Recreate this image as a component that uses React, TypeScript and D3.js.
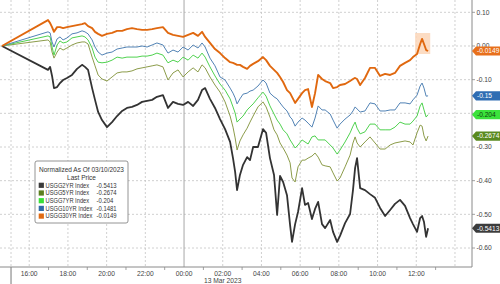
import React from 'react';
import * as d3 from 'd3';

// hours relative to 00:00, 13 Mar 2023 (first point = Friday close 03/10/2023)
const hours = [-9.41,-7.03,-6.92,-6.82,-6.72,-6.56,-6.41,-6.25,-6.05,-5.79,-5.53,-5.27,-5.12,-4.96,-4.75,-4.60,-4.44,-4.24,-3.98,-3.72,-3.46,-3.20,-2.95,-2.69,-2.43,-2.17,-1.91,-1.65,-1.40,-1.09,-0.83,-0.57,-0.31,-0.05,0.21,0.47,0.72,0.93,1.09,1.34,1.60,1.86,2.12,2.38,2.53,2.64,2.74,2.89,3.05,3.26,3.41,3.57,3.82,4.08,4.24,4.44,4.65,4.81,4.96,5.12,5.32,5.48,5.58,5.74,5.89,6.10,6.25,6.41,6.61,6.77,6.93,7.13,7.29,7.55,7.70,7.91,8.06,8.32,8.58,8.73,8.84,8.94,9.10,9.35,9.61,9.87,10.13,10.39,10.65,10.90,11.16,11.42,11.68,11.83,12.04,12.20,12.30,12.40,12.51,12.61];

const usgg30 = [0,0.077,0.068,0.056,0.042,0.056,0.056,0.053,0.056,0.059,
0.062,0.065,0.068,0.059,0.053,0.042,0.036,0.030,0.036,0.039,
0.045,0.045,0.050,0.053,0.050,0.048,0.048,0.050,0.053,0.056,
0.039,0.033,0.030,0.027,0.033,0.039,0.030,0.042,0.027,0.009,
-0.009,-0.021,-0.036,-0.048,-0.050,-0.053,-0.056,-0.056,-0.062,-0.068,
-0.059,-0.053,-0.045,-0.033,-0.042,-0.059,-0.071,-0.080,-0.092,-0.107,
-0.131,-0.140,-0.151,-0.169,-0.157,-0.140,-0.131,-0.128,-0.181,-0.140,
-0.086,-0.098,-0.104,-0.110,-0.125,-0.122,-0.116,-0.113,-0.104,-0.098,
-0.095,-0.098,-0.116,-0.095,-0.065,-0.065,-0.089,-0.083,-0.086,-0.080,
-0.059,-0.050,-0.042,-0.033,-0.024,0.006,0.021,0.006,-0.012,-0.0149];

const usgg2 = [0,-0.071,-0.062,-0.089,-0.125,-0.122,-0.110,-0.101,-0.095,-0.086,
-0.068,-0.056,-0.062,-0.071,-0.125,-0.160,-0.196,-0.220,-0.241,-0.226,
-0.208,-0.193,-0.184,-0.181,-0.175,-0.166,-0.163,-0.160,-0.151,-0.146,
-0.184,-0.166,-0.172,-0.175,-0.166,-0.178,-0.160,-0.131,-0.125,-0.157,
-0.184,-0.217,-0.247,-0.285,-0.333,-0.374,-0.428,-0.383,-0.353,-0.330,
-0.339,-0.300,-0.300,-0.247,-0.258,-0.333,-0.383,-0.502,-0.386,-0.404,
-0.443,-0.532,-0.582,-0.529,-0.493,-0.422,-0.472,-0.466,-0.514,-0.484,
-0.463,-0.529,-0.541,-0.517,-0.552,-0.582,-0.564,-0.526,-0.499,-0.428,
-0.362,-0.333,-0.422,-0.428,-0.440,-0.451,-0.481,-0.505,-0.487,-0.469,
-0.457,-0.475,-0.511,-0.529,-0.552,-0.511,-0.505,-0.523,-0.567,-0.5413];

const usgg10 = [0,0.042,0.039,0.012,-0.003,0.021,0.027,0.018,0.024,0.036,
0.039,0.045,0.042,0.036,0.018,-0.003,-0.018,-0.027,-0.021,-0.018,
-0.009,-0.006,-0.003,-0.003,-0.003,0,-0.003,0.003,0.009,0.003,
-0.021,-0.012,-0.018,-0.003,-0.012,0.003,-0.006,0.009,-0.003,-0.036,
-0.059,-0.092,-0.101,-0.125,-0.140,-0.154,-0.172,-0.157,-0.143,-0.140,
-0.134,-0.131,-0.119,-0.101,-0.110,-0.140,-0.151,-0.157,-0.169,-0.181,
-0.193,-0.211,-0.217,-0.238,-0.226,-0.214,-0.220,-0.229,-0.241,-0.214,
-0.178,-0.190,-0.190,-0.202,-0.220,-0.244,-0.232,-0.217,-0.205,-0.193,
-0.181,-0.187,-0.196,-0.193,-0.169,-0.172,-0.193,-0.193,-0.190,-0.190,
-0.169,-0.169,-0.172,-0.160,-0.146,-0.119,-0.110,-0.125,-0.149,-0.1481];

const usgg7 = [0,0.030,0.027,-0.003,-0.027,0.003,0.015,0.009,0.012,0.024,
0.027,0.030,0.027,0.018,-0.006,-0.033,-0.048,-0.050,-0.048,-0.042,
-0.033,-0.036,-0.033,-0.033,-0.033,-0.030,-0.030,-0.027,-0.021,-0.027,
-0.050,-0.042,-0.048,-0.033,-0.042,-0.027,-0.036,-0.021,-0.033,-0.062,
-0.089,-0.113,-0.131,-0.157,-0.181,-0.199,-0.226,-0.217,-0.208,-0.190,
-0.181,-0.172,-0.154,-0.137,-0.149,-0.178,-0.202,-0.220,-0.232,-0.249,
-0.261,-0.279,-0.288,-0.303,-0.294,-0.279,-0.285,-0.291,-0.270,-0.267,
-0.279,-0.279,-0.279,-0.294,-0.303,-0.321,-0.309,-0.285,-0.258,-0.238,
-0.226,-0.244,-0.261,-0.255,-0.232,-0.232,-0.249,-0.249,-0.249,-0.241,
-0.226,-0.232,-0.232,-0.223,-0.208,-0.178,-0.169,-0.190,-0.211,-0.204];

const usgg5 = [0,0.018,0.012,-0.018,-0.036,-0.018,-0.006,-0.012,-0.006,0.003,
0.009,0.012,0.012,0.006,-0.033,-0.059,-0.086,-0.098,-0.104,-0.092,
-0.080,-0.077,-0.077,-0.074,-0.068,-0.065,-0.062,-0.059,-0.056,-0.062,
-0.101,-0.080,-0.071,-0.092,-0.077,-0.065,-0.077,-0.056,-0.065,-0.092,
-0.116,-0.137,-0.166,-0.208,-0.241,-0.273,-0.309,-0.282,-0.264,-0.244,
-0.226,-0.208,-0.181,-0.166,-0.181,-0.211,-0.249,-0.264,-0.288,-0.303,
-0.324,-0.347,-0.392,-0.404,-0.359,-0.339,-0.339,-0.333,-0.327,-0.318,
-0.330,-0.353,-0.356,-0.359,-0.377,-0.401,-0.392,-0.359,-0.324,-0.288,
-0.270,-0.288,-0.300,-0.285,-0.270,-0.288,-0.306,-0.306,-0.294,-0.288,
-0.285,-0.282,-0.285,-0.294,-0.258,-0.235,-0.238,-0.267,-0.282,-0.2674];

const seriesNames = ['USGG2YR Index', 'USGG5YR Index', 'USGG7YR Index', 'USGG10YR Index', 'USGG30YR Index'];
const legendValues = ['-0.5413', '-0.2674', '-0.204', '-0.1481', '-0.0149'];
const boxLabels = ['-0.5413', '-0.2674', '-0.204', '-0.15', '-0.0149'];
const seriesData = [usgg2, usgg5, usgg7, usgg10, usgg30];

const xTickHours = [-8, -6, -4, -2, 0, 2, 4, 6, 8, 10, 12];
const xTickLabels = ['16:00', '18:00', '20:00', '22:00', '00:00', '02:00', '04:00', '06:00', '08:00', '10:00', '12:00'];
const xGridHours = [-8, -6, -4, -2, 2, 4, 6, 8, 10, 12, 14];
const xMinorHours = [-7, -5, -3, -1, 1, 3, 5, 7, 9, 11, 13];
const dateSeparatorHours = -8.94;
const dateLabel = '13 Mar 2023';
const yTicks = [0.1, 0, -0.1, -0.2, -0.3, -0.4, -0.5, -0.6];
const yTickLabels = ['0.10', '0.00', '-0.10', '-0.20', '-0.30', '-0.40', '-0.50', '-0.60'];
const highlightHours = [11.94, 12.72];
const highlightValues = [0.0386, -0.0238];

const lineColors = ['#333333', '#8c9c4a', '#4fd24f', '#5283b5', '#e0680f'];
const lineWidths = [1.8, 1, 1, 1, 1.9];
const legendColors = ['#3a3a3a', '#5b7f1e', '#38e038', '#2f6aa8', '#e06a12'];
const boxFill = ['#3c3c3c', '#5a8a1f', '#3be23b', '#2f6db3', '#e8701c'];
const boxText = ['#ffffff', '#ffffff', '#0e3d0e', '#ffffff', '#ffffff'];

const W = 500, H = 284;
const FONT = '"Liberation Sans", Arial, sans-serif';

export default function App() {
  const x = d3.scaleLinear().domain([-9.51, 14.88]).range([0, 472]);
  const y = d3.scaleLinear().domain([-0.6564, 0.1366]).range([267, 0]);
  const line = d3.line<[number, number]>().x(d => x(d[0])).y(d => y(d[1]));
  const drawOrder = [1, 2, 3, 0, 4];
  const xr = x.range();
  const yb = y.range()[0];
  const boxYs = seriesData.map(s => y(s[s.length - 1]));

  return (
    <svg width={W} height={H} style={{ position: 'absolute', left: 0, top: 0, background: '#fff' }} fontFamily={FONT}>
      <rect x={0} y={0} width={W} height={H} fill="#ffffff" />
      {yTicks.map((t, i) => (
        <line key={'hg' + i} x1={xr[0]} x2={xr[1]} y1={y(t)} y2={y(t)} stroke="#c4c4c4" strokeWidth={0.8} strokeDasharray="2,2" />
      ))}
      {xGridHours.map((h, i) => (
        <line key={'vg' + i} x1={x(h)} x2={x(h)} y1={0} y2={yb} stroke="#c4c4c4" strokeWidth={0.8} strokeDasharray="2,2" />
      ))}
      <line x1={x(0)} x2={x(0)} y1={0} y2={yb} stroke="#a8a8a8" strokeWidth={1} />
      <line x1={x(dateSeparatorHours)} x2={x(dateSeparatorHours)} y1={0} y2={yb} stroke="#c4c4c4" strokeWidth={0.8} strokeDasharray="2,2" />
      <line x1={x(dateSeparatorHours)} x2={x(dateSeparatorHours)} y1={yb} y2={H} stroke="#777" strokeWidth={1} />

      <rect x={x(highlightHours[0])} y={y(highlightValues[0])} width={x(highlightHours[1]) - x(highlightHours[0])} height={y(highlightValues[1]) - y(highlightValues[0])} fill="#fbd6b8" opacity={0.85} />

      {drawOrder.map(si => {
        const pts: [number, number][] = hours.map((h, k) => [h, seriesData[si][k]]);
        return <path key={'s' + si} d={line(pts) || ''} fill="none" stroke={lineColors[si]} strokeWidth={lineWidths[si]} strokeLinejoin="round" />;
      })}

      <line x1={0} x2={xr[1]} y1={yb} y2={yb} stroke="#8a8a8a" strokeWidth={1} />
      <line x1={xr[1]} x2={xr[1]} y1={0} y2={yb} stroke="#8a8a8a" strokeWidth={1} />
      {xMinorHours.map((h, i) => (
        <line key={'mt' + i} x1={x(h)} x2={x(h)} y1={yb} y2={yb + 3} stroke="#8a8a8a" strokeWidth={0.8} />
      ))}
      {xTickHours.map((h, i) => (
        <text key={'xl' + i} x={x(h)} y={276} fontSize={6.7} fill="#444" textAnchor="middle">{xTickLabels[i]}</text>
      ))}
      <text x={x(2)} y={283} fontSize={6.7} fill="#444" textAnchor="middle">{dateLabel}</text>

      {yTicks.map((t, i) => {
        const covered = boxYs.some(by => Math.abs(by - y(t)) < 4);
        return (
          <g key={'yl' + i}>
            <line x1={xr[1]} x2={xr[1] + 3} y1={y(t)} y2={y(t)} stroke="#8a8a8a" strokeWidth={0.8} />
            {!covered && <text x={xr[1] + 4.5} y={y(t)} dy="0.35em" fontSize={6.7} fill="#444">{yTickLabels[i]}</text>}
          </g>
        );
      })}

      {seriesData.map((s, si) => {
        const cy = boxYs[si];
        const x0 = xr[1];
        const d = `M${x0},${cy} L${x0 + 4},${cy - 4.6} L${W},${cy - 4.6} L${W},${cy + 4.6} L${x0 + 4},${cy + 4.6} Z`;
        return (
          <g key={'box' + si}>
            <path d={d} fill={boxFill[si]} />
            <text x={x0 + 5} y={cy} dy="0.35em" fontSize={6.6} fill={boxText[si]}>{boxLabels[si]}</text>
          </g>
        );
      })}

      <g>
        <rect x={35} y={161} width={93} height={62} fill="#ffffff" stroke="#7a7a7a" strokeWidth={0.8} rx={2} />
        <text x={81.5} y={172} fontSize={6.5} fill="#333" textAnchor="middle">Normalized As Of 03/10/2023</text>
        <text x={81.5} y={179.8} fontSize={6.5} fill="#333" textAnchor="middle">Last Price</text>
        {seriesNames.map((n, i) => {
          const cy = 185.3 + i * 7.7;
          return (
            <g key={'lg' + i}>
              <rect x={38.7} y={cy - 2.6} width={5.2} height={5.2} fill={legendColors[i]} />
              <text transform={`translate(45.5,${cy}) scale(0.87,1)`} dy="0.35em" fontSize={6.6} fill="#333">{n}</text>
              <text transform={`translate(96.5,${cy}) scale(0.9,1)`} dy="0.35em" fontSize={6.6} fill="#333">{legendValues[i]}</text>
            </g>
          );
        })}
      </g>
    </svg>
  );
}
